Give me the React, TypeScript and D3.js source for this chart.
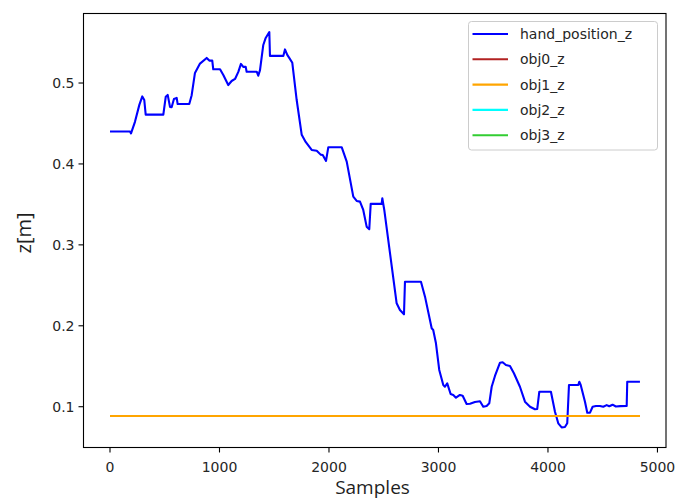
import React from 'react';
import * as d3 from 'd3';

// samples (x = sample index, z in metres)
const handX = [0, 183, 192, 228, 268, 295, 313, 326, 487, 509, 527, 548, 563, 584, 609, 618, 724, 746, 776, 822, 883, 907, 934, 943, 1005, 1035, 1080, 1111, 1142, 1172, 1196, 1217, 1239, 1248, 1340, 1354, 1370, 1400, 1422, 1455, 1461, 1583, 1598, 1619, 1637, 1665, 1705, 1751, 1787, 1842, 1888, 1924, 1943, 1973, 1994, 2116, 2162, 2222, 2253, 2283, 2313, 2344, 2368, 2381, 2481, 2487, 2505, 2618, 2648, 2685, 2694, 2840, 2877, 2938, 2952, 2977, 3007, 3044, 3059, 3080, 3111, 3135, 3160, 3196, 3221, 3257, 3288, 3333, 3379, 3409, 3440, 3464, 3486, 3516, 3562, 3586, 3616, 3653, 3689, 3744, 3790, 3836, 3881, 3902, 3921, 4027, 4064, 4094, 4125, 4155, 4176, 4192, 4277, 4286, 4299, 4338, 4359, 4384, 4408, 4438, 4475, 4505, 4536, 4560, 4590, 4620, 4660, 4719, 4724, 4840];
const handZ = [0.44, 0.44, 0.4377, 0.452, 0.473, 0.4834, 0.479, 0.461, 0.461, 0.483, 0.4853, 0.4705, 0.47, 0.4803, 0.4816, 0.474, 0.474, 0.485, 0.5125, 0.524, 0.531, 0.5277, 0.5277, 0.517, 0.517, 0.51, 0.4975, 0.5025, 0.505, 0.5137, 0.5236, 0.52, 0.52, 0.514, 0.514, 0.509, 0.516, 0.547, 0.5557, 0.563, 0.5335, 0.5335, 0.5415, 0.5347, 0.531, 0.525, 0.479, 0.436, 0.4272, 0.4173, 0.4164, 0.4115, 0.411, 0.4037, 0.4207, 0.4207, 0.4028, 0.3596, 0.3543, 0.3534, 0.3431, 0.3225, 0.3193, 0.3506, 0.3506, 0.3576, 0.3431, 0.2278, 0.2195, 0.2142, 0.2545, 0.2545, 0.236, 0.1969, 0.1948, 0.1784, 0.1454, 0.1268, 0.1247, 0.1289, 0.1157, 0.1145, 0.1111, 0.1145, 0.1136, 0.1033, 0.1037, 0.1058, 0.1067, 0.1, 0.1009, 0.1042, 0.1247, 0.138, 0.1544, 0.1549, 0.1515, 0.1503, 0.1413, 0.1247, 0.1062, 0.1, 0.0968, 0.0972, 0.1185, 0.1185, 0.0938, 0.0795, 0.0745, 0.0749, 0.0795, 0.1268, 0.1268, 0.1309, 0.1268, 0.1062, 0.0926, 0.0926, 0.1, 0.1009, 0.1009, 0.1, 0.102, 0.1005, 0.1025, 0.1003, 0.1007, 0.1009, 0.1309, 0.1309];

const objX = [0, 4840];
const obj0Z = [0.0889, 0.0889];
const obj1Z = [0.0889, 0.0889];
const obj2Z = [0.0889, 0.0889];
const obj3Z = [0.0889, 0.0889];

const xTicks = [0, 1000, 2000, 3000, 4000, 5000];
const yTicks = [0.1, 0.2, 0.3, 0.4, 0.5];

const seriesNames = ['hand_position_z', 'obj0_z', 'obj1_z', 'obj2_z', 'obj3_z'];
const seriesColors = ['#0000ff', '#b22222', '#ffa500', '#00ffff', '#32cd32'];

const W = 678;
const H = 501;
const left = 83.5, right = 666, top = 13.5, bottom = 447.5;

export default function App() {
  const x = d3.scaleLinear().domain([-242, 5078]).range([left, right]);
  const y = d3.scaleLinear().domain([0.0496, 0.5859]).range([bottom, top]);

  const line = d3.line<[number, number]>().x(d => x(d[0])).y(d => y(d[1]));
  const pts = (xs: number[], ys: number[]) => xs.map((v, i) => [v, ys[i]] as [number, number]);

  // flat object lines sit under each other; orange drawn last so it shows on top
  const flat = [
    { d: pts(objX, obj0Z), c: seriesColors[1] },
    { d: pts(objX, obj2Z), c: seriesColors[3] },
    { d: pts(objX, obj3Z), c: seriesColors[4] },
    { d: pts(objX, obj1Z), c: seriesColors[2] },
  ];

  const tickFont = 'DejaVu Sans, sans-serif';
  const labelFont = 'Open Sans, sans-serif';
  const legX = 468.5, legY = 21.5, rowH = 25.3;

  return (
    <svg width={W} height={H} style={{ position: 'fixed', left: 0, top: 0, background: '#fff' }}>
      <rect x={0} y={0} width={W} height={H} fill="#fff" />
      <defs>
        <clipPath id="plot">
          <rect x={left} y={top} width={right - left} height={bottom - top} />
        </clipPath>
      </defs>
      <g clipPath="url(#plot)">
        <path d={line(pts(handX, handZ)) || ''} fill="none" stroke={seriesColors[0]} strokeWidth={2.1} strokeLinejoin="round" />
        {flat.map((s, i) => (
          <path key={i} d={line(s.d) || ''} fill="none" stroke={s.c} strokeWidth={2} shapeRendering="crispEdges" />
        ))}
      </g>
      <rect x={left} y={top} width={right - left} height={bottom - top} fill="none" stroke="#000" strokeWidth={1.1} />

      {xTicks.map(t => (
        <g key={t} transform={`translate(${x(t)},${bottom})`}>
          <line y1={0} y2={5} stroke="#000" strokeWidth={1.1} />
          <text y={24} textAnchor="middle" fontFamily={tickFont} fontSize={14} fill="#262626">{t}</text>
        </g>
      ))}
      {yTicks.map(t => (
        <g key={t} transform={`translate(${left},${y(t)})`}>
          <line x1={0} x2={-5} stroke="#000" strokeWidth={1.1} />
          <text x={-9} dy="0.35em" textAnchor="end" fontFamily={tickFont} fontSize={14} fill="#262626">{t.toFixed(1)}</text>
        </g>
      ))}

      <text x={372.5} y={493.5} textAnchor="middle" fontFamily={labelFont} fontSize={19} fill="#1f1f1f">Samples</text>
      <text transform="translate(31,233) rotate(-90)" textAnchor="middle" fontFamily={labelFont} fontSize={20} fill="#1f1f1f">z[m]</text>

      <rect x={legX} y={legY} width={189} height={128.5} rx={3} fill="#fff" fillOpacity={0.8} stroke="#cccccc" strokeWidth={1} />
      {seriesNames.map((n, i) => {
        const cy = 34 + i * rowH;
        return (
          <g key={n}>
            <line x1={472.5} x2={508} y1={cy} y2={cy} stroke={seriesColors[i]} strokeWidth={2.1} />
            <text x={520} y={cy} dy="0.35em" fontFamily={tickFont} fontSize={14} fill="#262626">{n}</text>
          </g>
        );
      })}
    </svg>
  );
}
